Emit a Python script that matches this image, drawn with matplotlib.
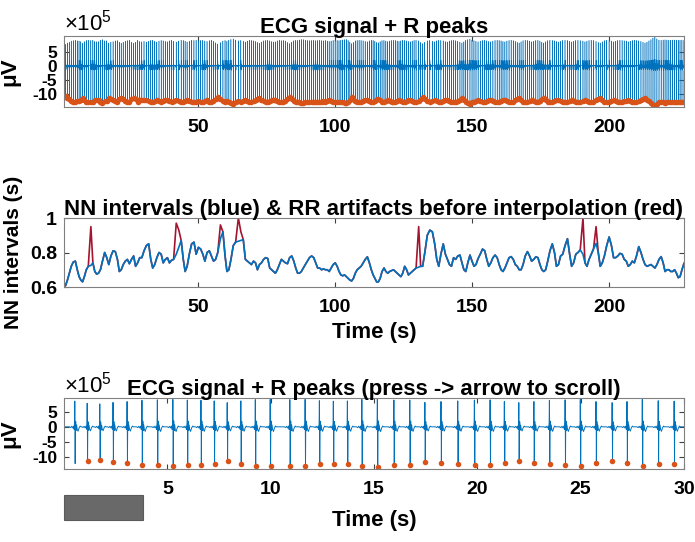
import numpy as np
import matplotlib
matplotlib.use('Agg')
import matplotlib.pyplot as plt
from matplotlib.patches import Rectangle

plt.rcParams['font.family'] = ['Liberation Sans', 'DejaVu Sans']
plt.rcParams['axes.unicode_minus'] = False
plt.rcParams['mathtext.fontset'] = 'custom'
plt.rcParams['mathtext.rm'] = 'Liberation Sans'

# time of the first detected R peak (s) and the undetected beat before it
first_r_time = 1.14
first_beat_amp = -12.1

# NN intervals after artifact correction, one per beat (ms)
nn_ms = [
    600, 610, 640, 680, 720, 745, 750, 700, 660, 640,
    630, 660, 700, 720, 725, 740, 690, 675, 680, 700,
    750, 800, 770, 730, 780, 810, 805, 760, 690, 700,
    730, 750, 760, 735, 760, 780, 720, 740, 770, 770,
    810, 840, 850, 760, 710, 730, 770, 800, 790, 740,
    760, 770, 740, 755, 760, 790, 830, 870, 760, 690,
    720, 790, 850, 860, 790, 830, 820, 790, 750, 800,
    810, 780, 750, 760, 800, 880, 920, 780, 690, 700,
    760, 840, 860, 865, 870, 875, 760, 750, 740, 730,
    750, 740, 700, 730, 740, 760, 770, 765, 710, 700,
    690, 680, 700, 730, 760, 750, 740, 735, 770, 780,
    750, 710, 680, 680, 690, 710, 730, 750, 770, 780,
    770, 740, 710, 710, 700, 705, 700, 700, 690, 710,
    730, 740, 720, 690, 670, 665, 670, 660, 650, 640,
    635, 650, 680, 700, 710, 720, 740, 760, 775, 740,
    700, 670, 650, 630, 630, 650, 690, 710, 690, 680,
    690, 695, 700, 690, 680, 670, 660, 680, 720, 700,
    670, 680, 690, 700, 710, 715, 720, 720, 800, 900,
    930, 920, 850, 760, 720, 790, 850, 790, 760, 730,
    720, 770, 760, 780, 785, 740, 700, 690, 740, 785,
    750, 720, 730, 765, 790, 820, 810, 760, 720, 740,
    770, 785, 770, 730, 700, 690, 710, 740, 770, 776,
    760, 730, 720, 700, 700, 730, 780, 805, 780, 750,
    760, 775, 770, 730, 700, 690, 700, 750, 810, 850,
    800, 720, 730, 780, 790, 840, 880, 790, 720, 740,
    790, 800, 815, 790, 740, 720, 760, 790, 820, 853,
    800, 720, 740, 780, 840, 890, 840, 770, 770, 780,
    795, 790, 760, 750, 720, 730, 750, 740, 780, 834, 800,
    760, 730, 720, 725, 730, 720, 710, 730, 760, 776,
    740, 690, 700, 700, 690, 690, 700, 680, 654, 660, 700,
    737,
]

# beats whose raw RR interval was an artifact, and the raw value (ms)
artifact_beats = [14, 55, 56, 75, 83, 84, 175, 253, 259]
artifact_ms = [950, 970, 930, 960, 1000, 920, 950, 1000, 950]

# R peak amplitudes (x10^5 uV), one per beat
r_amp = [
    -11.1, -10.8, -11.5, -11.9, -12.5, -12.7, -12.9, -12.6, -12.5, -12.2,
    -11.4, -12.2, -12.8, -12.9, -12.8, -12.9, -12.3, -12.1, -12.2, -12.9,
    -13.2, -12.6, -12.6, -11.5, -11.9, -12.2, -12.6, -12.7, -11.9, -11.4,
    -11.9, -12.4, -12.7, -12.9, -11.9, -11.4, -11.9, -12.9, -12.3, -12.1,
    -12.3, -12.0, -12.4, -12.8, -12.9, -12.4, -12.0, -12.5, -12.8, -12.6,
    -12.3, -12.1, -12.6, -12.9, -12.4, -12.0, -12.5, -12.9, -12.8, -12.4,
    -12.0, -12.4, -12.9, -12.8, -12.9, -12.6, -12.8, -12.9, -12.5, -12.3,
    -12.7, -12.9, -12.4, -11.6, -11.0, -11.7, -12.5, -12.8, -12.4, -12.9,
    -13.3, -13.5, -13.0, -12.6, -12.8, -12.4, -12.0, -12.5, -12.9, -12.8,
    -12.6, -12.3, -11.8, -11.4, -12.0, -12.6, -12.8, -12.9, -12.6, -12.2,
    -12.0, -12.1, -12.6, -12.9, -12.7, -12.8, -12.5, -11.8, -11.2, -11.9,
    -12.6, -12.9, -12.8, -13.0, -13.3, -13.2, -12.9, -12.8, -12.7, -12.8,
    -12.9, -12.7, -12.8, -12.9, -12.7, -12.6, -12.8, -12.5, -12.3, -12.5,
    -12.8, -12.9, -12.8, -12.7, -12.9, -13.0, -13.2, -13.3, -12.8, -12.0,
    -11.2, -11.8, -12.6, -12.8, -12.9, -12.8, -12.6, -12.3, -12.1, -12.6,
    -12.9, -12.8, -12.4, -11.8, -11.6, -12.2, -12.7, -12.8, -12.5, -12.2,
    -12.5, -12.8, -12.9, -12.8, -12.5, -12.3, -12.6, -12.9, -12.8, -12.6,
    -12.3, -12.1, -12.5, -12.8, -12.9, -12.6, -11.8, -11.2, -11.9, -12.6,
    -12.8, -12.4, -12.1, -12.6, -12.9, -12.8, -12.6, -12.2, -12.0, -12.5,
    -12.8, -12.9, -12.7, -12.4, -12.0, -11.5, -12.1, -12.8, -13.2, -13.5,
    -13.0, -12.7, -12.4, -12.1, -12.5, -12.8, -12.9, -12.6, -12.3, -12.1,
    -12.5, -12.8, -12.9, -12.8, -12.6, -12.3, -12.1, -12.5, -12.8, -12.9,
    -12.7, -12.3, -11.8, -11.5, -12.1, -12.7, -12.9, -12.8, -12.5, -12.1,
    -12.4, -12.8, -12.9, -12.5, -11.9, -11.5, -12.1, -12.7, -12.9, -12.8,
    -12.6, -12.3, -12.0, -12.4, -12.8, -12.9, -12.8, -12.4, -12.0, -12.4,
    -12.8, -12.9, -12.7, -12.5, -12.1, -12.4, -12.8, -12.9, -12.8, -12.3,
    -11.8, -11.5, -12.1, -12.7, -12.9, -12.8, -12.5, -12.1, -12.4, -12.8,
    -12.9, -12.8, -12.6, -12.5, -12.1, -12.4, -12.8, -12.9, -12.8, -12.6, -12.3,
    -11.9, -11.5, -12.0, -12.6, -13.2, -14.0, -14.6, -13.6, -13.0, -12.9,
    -13.0, -13.1, -13.0, -12.9, -12.9, -13.0, -13.0, -13.0, -12.9, -12.9, -13.0,
    -12.8,
]

# one heartbeat as seen in the zoomed trace: offsets from the R peak (s)
# and the shape relative to the R amplitude (R peak = 1)
beat_offsets = [-0.28, -0.22, -0.17, -0.12, -0.08, -0.05, -0.03, -0.018, -0.008,
                0.0, 0.01, 0.025, 0.045, 0.07, 0.1, 0.14, 0.19, 0.24, 0.28]
beat_shape = [0.0, 0.02, -0.015, 0.03, -0.02, 0.07, -0.12, -0.7, -0.09,
              1.0, 0.14, -0.15, 0.1, -0.05, 0.07, 0.12, 0.03, -0.02, 0.0]

blue = '#0072BD'
orange = '#D95319'
red = '#A2142F'
frame = '#808080'

n = min(len(nn_ms), len(r_amp))
nn = np.array(nn_ms[:n]) / 1000.0
rr = nn.copy()
rr[artifact_beats] = np.array(artifact_ms) / 1000.0
r_time = first_r_time + np.concatenate([[0.0], np.cumsum(rr[1:])])
amp = np.array(r_amp[:n])

beat_t = np.concatenate([[first_r_time - nn[0]], r_time])
beat_a = np.concatenate([[first_beat_amp], amp])
ecg_t = (beat_t[:, None] + np.array(beat_offsets)[None, :]).ravel()
ecg_v = (beat_a[:, None] * np.array(beat_shape)[None, :]).ravel()
ecg_t = np.concatenate([[0.0], ecg_t, [r_time[-1] + 0.6]])
ecg_v = np.concatenate([[0.0], ecg_v, [0.0]])

LABEL_FS = 16


def style_axes(ax, ytick_fs=14):
    for s in ax.spines.values():
        s.set_color(frame)
        s.set_linewidth(0.8)
    ax.tick_params(direction='in', top=True, right=True, length=3.5,
                   width=0.8, color='#404040', labelsize=14)
    ax.tick_params(axis='x', pad=9)
    ax.tick_params(axis='y', pad=5, labelsize=ytick_fs)
    for lab in ax.get_xticklabels() + ax.get_yticklabels():
        lab.set_fontweight('bold')


fig = plt.figure(figsize=(6.95, 5.42), dpi=100)
W, H = 695.0, 542.0
ax1 = fig.add_axes([64 / W, 1 - 107 / H, 620 / W, 71 / H])
ax2 = fig.add_axes([64 / W, 1 - 287 / H, 620 / W, 69 / H])
ax3 = fig.add_axes([64 / W, 1 - 469 / H, 620 / W, 71 / H])

# top: full ECG + R peaks
ax1.plot(ecg_t, ecg_v, color=blue, lw=0.35)
ax1.plot(r_time, amp, 'o', color=orange, ms=4, mec=orange, mew=0)
ax1.set_xlim(r_time[0], r_time[-1])
ax1.set_ylim(-14.6, 10.5)
ax1.set_xticks([50, 100, 150, 200])
ax1.set_yticks([5, 0, -5, -10])
style_axes(ax1, ytick_fs=12.5)
ax1.set_title('ECG signal + R peaks', fontsize=LABEL_FS, fontweight='bold', pad=2)
ax1.set_ylabel('\u03bcV', fontsize=LABEL_FS, fontweight='bold')
ax1.yaxis.set_label_coords(-0.071, 0.5)
ax1.text(0.0, 1.01, r'$\times10^{5}$', transform=ax1.transAxes,
         ha='left', va='bottom', fontsize=16)

# middle: NN intervals and artifacts
ax2.plot(r_time, rr, color=red, lw=1.2)
ax2.plot(r_time, nn, color=blue, lw=1.2)
ax2.set_xlim(r_time[0], r_time[-1])
ax2.set_ylim(0.6, 1.0)
ax2.set_xticks([50, 100, 150, 200])
ax2.set_yticks([0.6, 0.8, 1.0])
ax2.set_yticklabels(['0.6', '0.8', '1'])
style_axes(ax2)
ax2.set_title('NN intervals (blue) & RR artifacts before interpolation (red)',
              fontsize=LABEL_FS, fontweight='bold', pad=2)
ax2.set_ylabel('NN intervals (s)', fontsize=15, fontweight='bold')
ax2.yaxis.set_label_coords(-0.066, 0.5)
ax2.set_xlabel('Time (s)', fontsize=LABEL_FS, fontweight='bold')
ax2.xaxis.set_label_coords(0.5, -0.51)

# bottom: 30 s window
win = r_time <= 30
ax3.plot(ecg_t, ecg_v, color=blue, lw=0.7)
ax3.plot(r_time[win], amp[win], 'o', color=orange, ms=4, mec=orange, mew=0)
ax3.set_xlim(0, 30)
ax3.set_ylim(-13.9, 9.5)
ax3.set_xticks([5, 10, 15, 20, 25, 30])
ax3.set_yticks([5, 0, -5, -10])
style_axes(ax3, ytick_fs=12.5)
ax3.set_title('ECG signal + R peaks (press -> arrow to scroll)',
              fontsize=LABEL_FS, fontweight='bold', pad=2)
ax3.set_ylabel('\u03bcV', fontsize=LABEL_FS, fontweight='bold')
ax3.yaxis.set_label_coords(-0.071, 0.5)
ax3.set_xlabel('Time (s)', fontsize=LABEL_FS, fontweight='bold')
ax3.xaxis.set_label_coords(0.5, -0.58)
ax3.text(0.0, 1.01, r'$\times10^{5}$', transform=ax3.transAxes,
         ha='left', va='bottom', fontsize=16)

# scroll slider
fig.add_artist(Rectangle((64 / W, 1 - 520 / H), 79 / W, 25 / H,
                         transform=fig.transFigure, facecolor='#696969',
                         edgecolor='#5a5a5a', lw=0.8))

fig.savefig('out.png', dpi=100)
